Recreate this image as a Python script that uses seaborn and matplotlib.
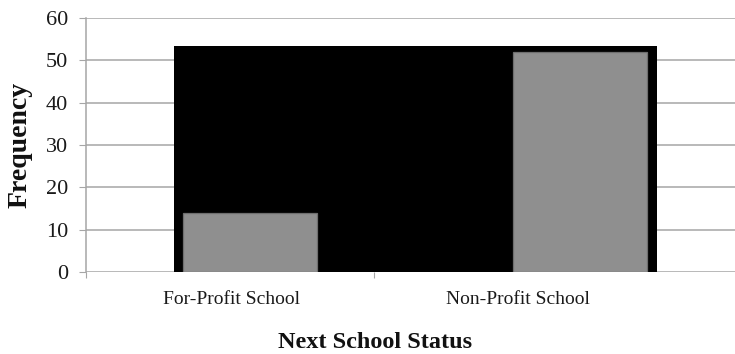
import matplotlib
matplotlib.use("Agg")
import matplotlib.pyplot as plt
import seaborn as sns
import pandas as pd

# Counts of students by the status of the school they moved to next
categories = ["For-Profit School", "Non-Profit School"]
frequency = [14, 52]
backdrop_height = 53.4
y_ticks = [0, 10, 20, 30, 40, 50, 60]

df = pd.DataFrame({"status": categories, "frequency": frequency})

sns.set_theme(style="white")
plt.rcParams["font.family"] = ["Liberation Serif", "DejaVu Serif"]

fig = plt.figure(figsize=(7.35, 3.54), dpi=100)
W, H = 735, 354
ax = fig.add_axes([86 / W, (H - 272) / H, (735 - 86) / W, (272 - 18) / H])

grid_col = "#a6a6a6"
for v in y_ticks:
    ax.axhline(v, color=grid_col, lw=1.1, zorder=0)

# black panel behind both bars
ax.bar(0.5015, backdrop_height, width=1.463, color="black", zorder=1, linewidth=0)

sns.barplot(data=df, x="status", y="frequency", color="#8f8f8f",
            width=0.406, edgecolor="#6e6e6e", linewidth=0.9,
            saturation=1, ax=ax, zorder=2)

ax.set_xlim(-0.497, 1.470)
ax.set_ylim(0, 60)
ax.set_yticks(y_ticks)
ax.set_yticklabels([str(v) for v in y_ticks], fontsize=16, color="#1a1a1a")

# category labels sit apart from the bar centres
ax.set_xticks([-0.055, 0.812])
ax.set_xticklabels(categories, fontsize=14, color="#1a1a1a")
ax.tick_params(axis="x", length=0, pad=14)
ax.set_xticks([-0.497, 0.376], minor=True)
ax.tick_params(axis="x", which="minor", length=4.5, width=0.8, color=grid_col, bottom=True)
ax.tick_params(axis="y", length=5, width=0.8, color=grid_col, pad=8, left=True)

for s in ["top", "right", "bottom"]:
    ax.spines[s].set_visible(False)
ax.spines["left"].set_color(grid_col)
ax.spines["left"].set_linewidth(1.1)
ax.spines["left"].set_bounds(0, 60)

ax.set_xlabel("Next School Status", fontsize=17.5, fontweight="bold", color="#111111")
ax.xaxis.set_label_coords(0.445, -0.276)
ax.xaxis.label.set_va("center")
ax.set_ylabel("Frequency", fontsize=20, fontweight="bold", color="#111111")
ax.yaxis.set_label_coords(-0.1017, 0.5)
ax.yaxis.label.set_va("center")

fig.savefig("out.png", dpi=100)
